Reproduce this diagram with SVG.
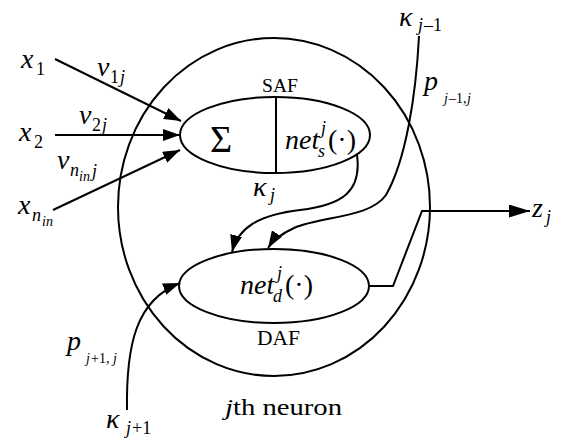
<svg xmlns="http://www.w3.org/2000/svg" width="565" height="441" viewBox="0 0 565 441">
<style>
.ln{fill:none;stroke:#000;stroke-width:2}
.t{font-family:"Liberation Serif","Times New Roman",serif;fill:#000}
.m{font-family:"Liberation Serif","Times New Roman",serif;font-style:italic;fill:#000}
.big{font-size:28px}
.sub{font-size:18px}
.ss{font-size:14px}
</style>
<defs>
<marker id="ah" viewBox="0 0 17 12" refX="17" refY="6" markerWidth="17" markerHeight="12" markerUnits="userSpaceOnUse" orient="auto">
<path d="M0,0 L17,6 L0,12 z" fill="#000"/>
</marker>
<marker id="ah2" viewBox="0 0 21 13" refX="21" refY="6.5" markerWidth="21" markerHeight="13" markerUnits="userSpaceOnUse" orient="auto">
<path d="M0,0 L21,6.5 L0,13 z" fill="#000"/>
</marker>
</defs>
<g id="neuron">
<ellipse class="ln" cx="274" cy="207" rx="156" ry="169"/>
<text class="m" x="225" y="415" font-size="24" textLength="117" lengthAdjust="spacingAndGlyphs">j<tspan class="t" font-style="normal">th neuron</tspan></text>
</g>
<g id="saf">
<ellipse class="ln" cx="275" cy="135" rx="95" ry="38"/>
<line class="ln" x1="276" y1="97" x2="276" y2="173"/>
<text class="t" x="262" y="92" font-size="18" textLength="36" lengthAdjust="spacingAndGlyphs">SAF</text>
<text class="t" x="210" y="152" font-size="38">Σ</text>
<text class="m big" x="285" y="149">net</text>
<text class="m sub" x="318" y="157">s</text>
<text class="m sub" x="321" y="134">j</text>
<text class="t big" x="328" y="149">(·)</text>
</g>
<g id="daf">
<ellipse class="ln" cx="274" cy="286" rx="95" ry="37"/>
<text class="t" x="257" y="345" font-size="20" textLength="43" lengthAdjust="spacingAndGlyphs">DAF</text>
<text class="m big" x="240" y="294">net</text>
<text class="m sub" x="273" y="302">d</text>
<text class="m sub" x="277" y="279">j</text>
<text class="t big" x="285" y="294">(·)</text>
</g>
<g id="labels">
<text class="m big" x="21" y="68">x</text><text class="t sub" x="36" y="75">1</text>
<text class="m big" x="19" y="141">x</text><text class="t sub" x="34" y="148">2</text>
<text class="m big" x="18" y="214">x</text><text class="m sub" x="32" y="221">n</text><text class="m ss" x="42" y="226">in</text>
<text class="m big" x="97" y="76">v</text><text class="t sub" x="110" y="83">1</text><text class="m sub" x="120" y="83">j</text>
<text class="m big" x="79" y="124">v</text><text class="t sub" x="92" y="131">2</text><text class="m sub" x="102" y="131">j</text>
<text class="m big" x="57" y="169">v</text><text class="m sub" x="70" y="176">n</text><text class="m ss" x="79" y="181">in</text><text class="m sub" x="92" y="177">j</text>
<text class="m big" x="253" y="196">κ</text><text class="m sub" x="270" y="201">j</text>
<text class="m big" x="399" y="26">κ</text><text class="m sub" x="418" y="31">j</text><text class="t sub" x="424" y="31">–1</text>
<text class="m big" x="424" y="90">p</text><text class="m ss" x="444" y="103">j</text><text class="t ss" x="449" y="103">–1,</text><text class="m ss" x="467" y="103">j</text>
<text class="m big" x="67" y="350">p</text><text class="m ss" x="86" y="363">j</text><text class="t ss" x="91" y="363">+1,</text><text class="m ss" x="113" y="363">j</text>
<text class="m big" x="106" y="428">κ</text><text class="m sub" x="126" y="434">j</text><text class="t sub" x="132" y="434">+1</text>
<text class="m big" x="532" y="217">z</text><text class="m sub" x="546" y="223">j</text>
</g>
<g id="connectors">
<line class="ln" x1="55" y1="59" x2="181" y2="121" marker-end="url(#ah)"/>
<line class="ln" x1="55" y1="135" x2="180" y2="135" marker-end="url(#ah)"/>
<line class="ln" x1="53" y1="210" x2="180" y2="150" marker-end="url(#ah)"/>
<path class="ln" d="M357,155 C362,192 342,205 300,210 C258,215 238,228 232,252" marker-end="url(#ah)"/>
<path class="ln" d="M419,36 C416,95 406,160 386,195 C370,218 322,216 294,228 C281,234 273,240 268,248" marker-end="url(#ah)"/>
<path class="ln" d="M127,410 C126,345 136,300 180,283" marker-end="url(#ah)"/>
<polyline class="ln" points="369,286 393,286 422,211 530,211" marker-end="url(#ah2)"/>
</g>
</svg>
